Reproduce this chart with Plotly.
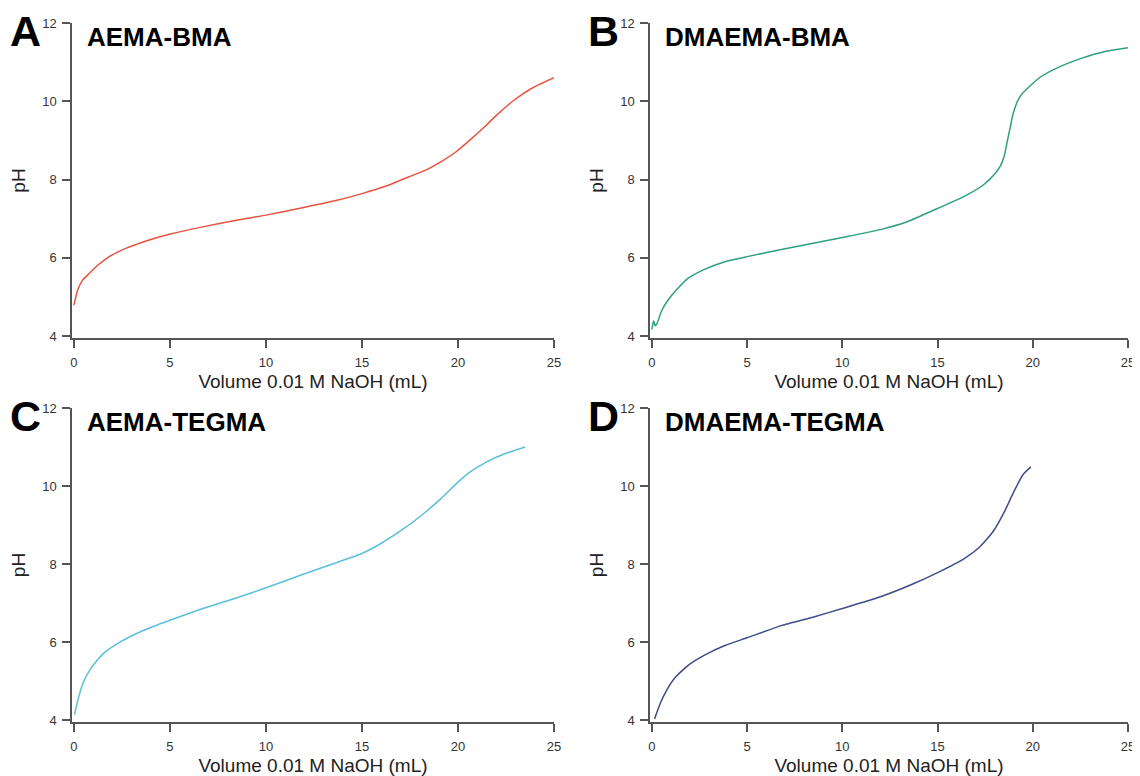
import plotly.graph_objects as go

# ---- data ----
vol_a = [0, 0.19, 0.45, 0.8, 1.15, 1.84, 2.7, 3.76, 4.97, 6.7, 8.45, 10.0, 11.9, 13.7, 15.0, 16.3, 17.1,
         18.4, 19.1, 19.9, 20.6, 21.5, 22.0, 22.9, 23.8, 25.0]
ph_a = [4.79, 5.17, 5.43, 5.6, 5.77, 6.03, 6.24, 6.43, 6.6, 6.79, 6.96, 7.09, 7.28, 7.47, 7.64, 7.84, 8.0,
        8.26, 8.45, 8.71, 9.0, 9.4, 9.64, 10.02, 10.32, 10.6]

vol_b = [0, 0.09, 0.17, 0.26, 0.52, 1.05, 1.83, 2.7, 3.83, 5.0, 6.8, 8.54, 10.0, 12.0, 13.4, 15.0, 16.4,
         17.4, 18.0, 18.3, 18.5, 18.65, 18.8, 18.95, 19.15, 19.4, 19.7, 20.4, 21.4, 22.5, 23.85, 25.0]
ph_b = [4.17, 4.39, 4.26, 4.31, 4.66, 5.05, 5.45, 5.69, 5.9, 6.03, 6.21, 6.38, 6.52, 6.72, 6.92, 7.26, 7.57,
        7.86, 8.14, 8.35, 8.6, 8.95, 9.3, 9.65, 9.95, 10.17, 10.32, 10.62, 10.88, 11.09, 11.28, 11.37]

vol_c = [0.03, 0.19, 0.45, 0.89, 1.5, 2.37, 3.58, 5.0, 6.72, 8.45, 10.0, 11.9, 13.7, 15.0, 15.9, 17.3,
         18.2, 19.1, 20.0, 20.6, 21.5, 22.4, 23.5]
ph_c = [4.14, 4.48, 4.92, 5.33, 5.69, 5.99, 6.29, 6.56, 6.86, 7.13, 7.39, 7.73, 8.04, 8.27, 8.5, 8.95,
        9.29, 9.67, 10.1, 10.35, 10.62, 10.82, 11.0]

vol_d = [0.14, 0.44, 0.78, 1.22, 1.92, 2.79, 3.83, 5.0, 6.79, 8.54, 10.0, 12.0, 13.76, 15.0, 16.4, 17.2,
         17.9, 18.5, 19.0, 19.5, 19.9]
ph_d = [4.03, 4.43, 4.77, 5.09, 5.41, 5.67, 5.91, 6.11, 6.42, 6.65, 6.86, 7.16, 7.5, 7.78, 8.14, 8.43,
        8.82, 9.33, 9.85, 10.3, 10.49]

panel_letters = ["A", "B", "C", "D"]
panel_titles = ["AEMA-BMA", "DMAEMA-BMA", "AEMA-TEGMA", "DMAEMA-TEGMA"]
line_colors = ["#e8533f", "#2f9f82", "#5bbfda", "#3e4c8a"]
x_ticks = [0, 5, 10, 15, 20, 25]
y_ticks = [4, 6, 8, 10, 12]
x_title = "Volume 0.01 M NaOH (mL)"
y_title = "pH"

series = [(vol_a, ph_a), (vol_b, ph_b), (vol_c, ph_c), (vol_d, ph_d)]

OFF = 8  # page body margin offset
W, H = 1140 - OFF, 776 - OFF
# target screen pixel boxes of plot areas: (left, right, top, bottom)
boxes = [(72, 554, 23, 338), (650, 1128, 23, 338), (72, 554, 408, 722), (650, 1128, 408, 722)]
letter_pos = [(8, 31), (586, 31), (8, 416), (586, 416)]
title_pos = [(85, 37), (663, 37), (85, 422), (663, 422)]

FONT = "Arial, Liberation Sans, Helvetica, sans-serif"
fig = go.Figure()
layout = dict(width=W, height=H, margin=dict(l=0, r=0, t=0, b=0, autoexpand=False), plot_bgcolor="white",
              paper_bgcolor="white", showlegend=False, template="none",
              font=dict(family=FONT, color="#333"))
annotations = []
for i, ((xs, ys), col) in enumerate(zip(series, line_colors)):
    n = "" if i == 0 else str(i + 1)
    fig.add_trace(go.Scatter(x=xs, y=ys, mode="lines", line=dict(color=col, width=1.5, shape="spline", smoothing=0.5),
                             xaxis="x" + n, yaxis="y" + n, hoverinfo="skip"))
    l, r, t, b = [v - OFF for v in boxes[i]]
    layout["xaxis" + n] = dict(domain=[l / W, r / W], anchor="y" + n, range=[-0.1, 25], tickvals=x_ticks,
                               ticks="outside", ticklen=8, tickwidth=1.5, tickcolor="#555", automargin=False,
                               showline=True, linecolor="#555", linewidth=1.5, showgrid=False, zeroline=False,
                               tickfont=dict(size=13, color="#333"), ticklabelstandoff=4,
                               title=dict(text=x_title, font=dict(size=19, color="#222"), standoff=5))
    layout["yaxis" + n] = dict(domain=[1 - b / H, 1 - t / H], anchor="x" + n, range=[3.95, 12], tickvals=y_ticks,
                               ticks="outside", ticklen=8, tickwidth=1.5, tickcolor="#555", automargin=False,
                               showline=True, linecolor="#555", linewidth=1.5, showgrid=False, zeroline=False,
                               tickfont=dict(size=13, color="#333"), ticklabelstandoff=3,
                               title=dict(text=y_title, font=dict(size=19, color="#222"), standoff=12))
    lx, ly = letter_pos[i]
    annotations.append(dict(text="<b>%s</b>" % panel_letters[i], x=(lx - OFF) / W, y=1 - (ly - OFF) / H,
                            xref="paper", yref="paper", xanchor="left", yanchor="middle", showarrow=False,
                            font=dict(size=43, color="black", family=FONT)))
    tx, ty = title_pos[i]
    annotations.append(dict(text="<b>%s</b>" % panel_titles[i], x=(tx - OFF) / W, y=1 - (ty - OFF) / H,
                            xref="paper", yref="paper", xanchor="left", yanchor="middle", showarrow=False,
                            font=dict(size=26, color="black", family=FONT)))
layout["annotations"] = annotations
fig.update_layout(**layout)
fig.write_html("out.html")
